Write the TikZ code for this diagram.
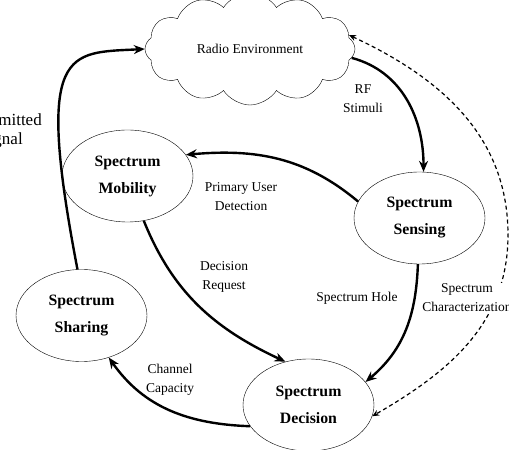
\documentclass[tikz,border=0pt]{standalone}
\usepackage{fontspec}
\setmainfont{Liberation Serif}
\usetikzlibrary{shapes,arrows.meta,positioning}
\tikzstyle{stage} = [draw,thin,ellipse,inner sep=0,minimum width=131pt,minimum height=92pt,align=center,font=\fontsize{15.8}{27}\selectfont\bfseries]
\tikzstyle{cloudbox} = [draw,thin,cloud,cloud puffs=12,cloud puff arc=115,aspect=2.2,inner sep=0,minimum width=210pt,minimum height=112pt,font=\fontsize{13.5}{18}\selectfont]
\tikzstyle{note} = [align=center,inner sep=1pt,font=\fontsize{13.5}{19}\selectfont]
\tikzstyle{flow} = [-{Stealth[length=11pt,width=9pt]},line width=2.4pt]
\tikzstyle{feedback} = [{Stealth[length=7pt,width=6pt]}-{Stealth[length=7pt,width=6pt]},line width=1.2pt,dash pattern=on 4pt off 3pt]

\begin{document}
\begin{tikzpicture}[x=1pt,y=1pt]
  \useasboundingbox (0,0) rectangle (509,450);
  \clip (0,0) rectangle (509,450);
  \node[cloudbox] (radio) at (250,401) {Radio Environment};
  \node[stage] (mobility) at (127.5,274) {Spectrum\\Mobility};
  \node[stage] (sensing) at (419.5,232) {Spectrum\\Sensing};
  \node[stage] (sharing) at (81.5,134.5) {Spectrum\\Sharing};
  \node[stage] (decision) at (308.5,45) {Spectrum\\Decision};

  \node[note] (rf) at (363,351) {RF\\Stimuli};
  \node[note,font=\fontsize{17}{19}\selectfont] (tx) at (1,319) {Transmitted\\Signal};
  \node[note] (pud) at (241,253) {Primary User\\Detection};
  \node[note] (req) at (224,173) {Decision\\Request};
  \node[note] (hole) at (357,152) {Spectrum Hole};
  \node[note] (cap) at (170,70) {Channel\\Capacity};
  \coordinate (rim) at (508,215);

  \draw[flow] (radio.-5) to[out=-15,in=90] (sensing.85);
  \draw[flow] (sensing.165) to[out=140,in=5] (mobility.20);
  \draw[flow] (mobility.-70) to[out=-68,in=155] (decision.118);
  \draw[flow] (sensing.-92) to[out=-92,in=40] (decision.22);
  \draw[flow] (decision.200) to[out=178,in=-55] (sharing.-57);
  \draw[flow] (sharing.95) .. controls +(-43,224) and +(-77,-4) .. (radio.west);
  \draw[feedback] (radio.8) to[out=-25,in=90] (rim) to[out=-90,in=30] (decision.-10);
  \node[note,fill=white] (char) at (467,152) {Spectrum\\Characterization};
\end{tikzpicture}
\end{document}
